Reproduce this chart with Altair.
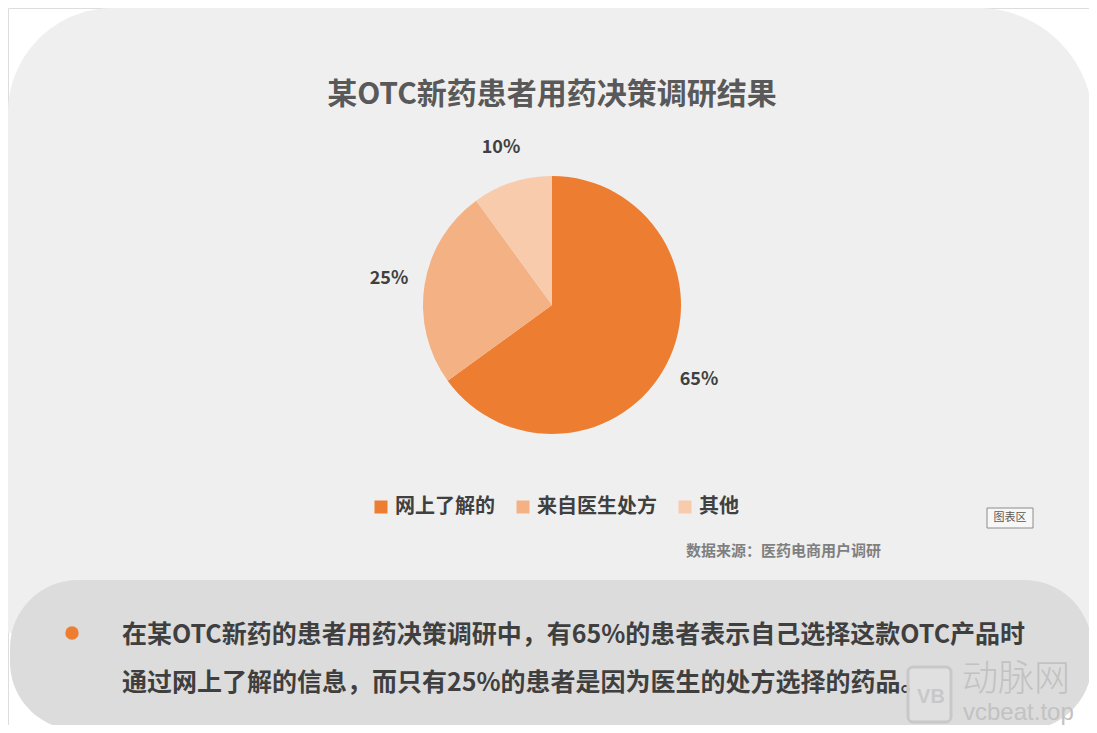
import altair as alt
import pandas as pd

# ---- data ----
categories = ["网上了解的", "来自医生处方", "其他"]
shares = [65, 25, 10]
share_labels = ["65%", "25%", "10%"]
slice_colors = ["#ED7D31", "#F4B183", "#F8CBAD"]

title_text = ["某OTC新药患者用药决策调研结果"]
source_text = ["数据来源：医药电商用户调研"]
chart_area_tag = ["图表区"]
note_lines = [
    "在某OTC新药的患者用药决策调研中，有65%的患者表示自己选择这款OTC产品时",
    "通过网上了解的信息，而只有25%的患者是因为医生的处方选择的药品。",
]
watermark_cn = ["动脉网"]
watermark_en = ["vcbeat.top"]

W, H = 1081, 717
FONT = "Noto Sans CJK SC"
CX, CY = 544, 297

pie_df = pd.DataFrame({
    "category": categories,
    "share": shares,
    "label": share_labels,
    "order": list(range(len(categories))),
})
one = pd.DataFrame({"k": [0]})

# ---- background shapes ----
card = alt.Chart(one).mark_rect(
    color="#EFEFEF", cornerRadiusTopLeft=105, cornerRadiusTopRight=115
).encode(x=alt.value(0), x2=alt.value(W + 4), y=alt.value(0), y2=alt.value(625))

box = alt.Chart(one).mark_rect(color="#DCDCDC", cornerRadius=68).encode(
    x=alt.value(2), x2=alt.value(W + 3), y=alt.value(572), y2=alt.value(722)
)

# ---- pie ----
color_scale = alt.Scale(domain=categories, range=slice_colors)

pie = alt.Chart(pie_df).mark_arc(outerRadius=129, stroke=None).encode(
    theta=alt.Theta("share:Q", stack=True),
    order=alt.Order("order:Q"),
    color=alt.Color(
        "category:N",
        scale=color_scale,
        sort=categories,
        legend=alt.Legend(
            title=None,
            orient="none",
            direction="horizontal",
            legendX=363,
            legendY=489,
            symbolType="square",
            symbolSize=169,
            symbolStrokeWidth=0,
            labelFont=FONT,
            labelFontSize=20,
            labelFontWeight="bold",
            labelColor="#404040",
            labelOffset=4,
            columnPadding=18,
        ),
    ),
    x=alt.value(CX),
    y=alt.value(CY),
)

pie_labels = alt.Chart(pie_df).mark_text(
    radius=165, font=FONT, fontSize=18, fontWeight="bold", color="#404040"
).encode(
    theta=alt.Theta("share:Q", stack=True),
    order=alt.Order("order:Q"),
    text="label:N",
    x=alt.value(CX),
    y=alt.value(CY),
)

# ---- texts ----
title = alt.Chart(pd.DataFrame({"t": title_text})).mark_text(
    font=FONT, fontSize=30, fontWeight="bold", color="#595959", align="center", baseline="middle"
).encode(text="t:N", x=alt.value(544), y=alt.value(87))

source = alt.Chart(pd.DataFrame({"t": source_text})).mark_text(
    font=FONT, fontSize=15, fontWeight="bold", color="#7F7F7F", align="left", baseline="middle"
).encode(text="t:N", x=alt.value(678), y=alt.value(543))

tag_box = alt.Chart(one).mark_rect(color="#F7F7F7", stroke="#8C8C8C", strokeWidth=1).encode(
    x=alt.value(979), x2=alt.value(1025), y=alt.value(500), y2=alt.value(520)
)
tag = alt.Chart(pd.DataFrame({"t": chart_area_tag})).mark_text(
    font=FONT, fontSize=11, color="#595959", align="center", baseline="middle"
).encode(text="t:N", x=alt.value(1002), y=alt.value(510))

bullet = alt.Chart(one).mark_circle(color="#ED7D31", opacity=1, size=180).encode(
    x=alt.value(64), y=alt.value(625)
)

note1 = alt.Chart(pd.DataFrame({"t": [note_lines[0]]})).mark_text(
    font=FONT, fontSize=25, fontWeight="bold", color="#3F3F3F", align="left", baseline="middle"
).encode(text="t:N", x=alt.value(114), y=alt.value(627))
note2 = alt.Chart(pd.DataFrame({"t": [note_lines[1]]})).mark_text(
    font=FONT, fontSize=25, fontWeight="bold", color="#3F3F3F", align="left", baseline="middle"
).encode(text="t:N", x=alt.value(114), y=alt.value(675))

# ---- watermark ----
logo = alt.Chart(one).mark_rect(
    fill="#E6E6E6", fillOpacity=0.4, stroke="#C8C8C8", strokeWidth=3, cornerRadius=5
).encode(x=alt.value(900), x2=alt.value(943), y=alt.value(659), y2=alt.value(714))
logo_txt = alt.Chart(pd.DataFrame({"t": ["VB"]})).mark_text(
    font="Liberation Sans", fontSize=20, fontWeight="bold", color="#C8C8C8", align="center", baseline="middle"
).encode(text="t:N", x=alt.value(923), y=alt.value(689))
wm_cn = alt.Chart(pd.DataFrame({"t": watermark_cn})).mark_text(
    font=FONT, fontSize=36, fontWeight=300, color="#C2C2C2", align="left", baseline="middle"
).encode(text="t:N", x=alt.value(954), y=alt.value(672))
wm_en = alt.Chart(pd.DataFrame({"t": watermark_en})).mark_text(
    font="Liberation Sans", fontSize=24, color="#C2C2C2", align="left", baseline="middle"
).encode(text="t:N", x=alt.value(955), y=alt.value(705))

chart = alt.layer(
    card, box, pie, pie_labels, title, source, tag_box, tag, bullet, note1, note2,
    logo, logo_txt, wm_cn, wm_en
).properties(
    width=W, height=H, autosize=alt.AutoSizeParams(type="none"), padding=0
).configure_view(stroke=None).configure(background="#FFFFFF")

chart.save("out.html", embed_options={"renderer": "svg", "actions": False})
